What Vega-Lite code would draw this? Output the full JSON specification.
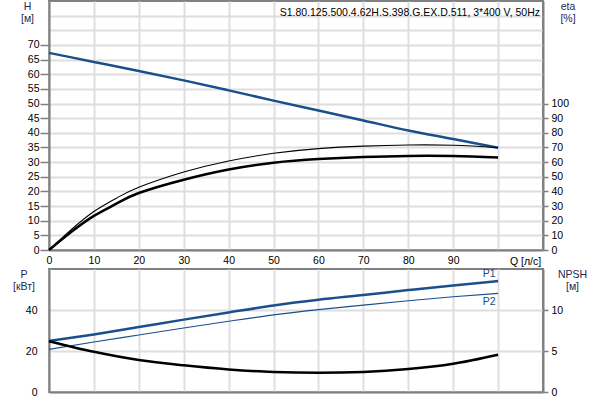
{
  "$schema": "https://vega.github.io/schema/vega-lite/v6.json",
  "padding": {"left": 11, "top": 0, "right": 0, "bottom": 0},
  "background": "white",
  "config": {
    "font": "Liberation Sans",
    "view": {"stroke": "#808080", "strokeWidth": 2},
    "axis": {
      "labelFont": "Liberation Sans", "labelFontSize": 10.5, "labelColor": "#000000",
      "titleFont": "Liberation Sans", "titleFontSize": 10.5, "titleFontWeight": "normal", "titleColor": "#2a2550",
      "titleAngle": 0, "titleAlign": "center", "titleBaseline": "top", "titleLineHeight": 12.5,
      "domainColor": "#808080", "domainWidth": 2,
      "gridColor": "#dedede", "gridWidth": 2,
      "tickColor": "#808080", "tickWidth": 1.5,
      "labelFlush": false, "labelOverlap": false
    }
  },
  "datasets": {
    "top": [
      {"Q": 0, "curve": "H", "value": 67.3}, {"Q": 10, "curve": "H", "value": 64.2}, {"Q": 20, "curve": "H", "value": 61.1},
      {"Q": 30, "curve": "H", "value": 57.9}, {"Q": 40, "curve": "H", "value": 54.5}, {"Q": 50, "curve": "H", "value": 51.0},
      {"Q": 60, "curve": "H", "value": 47.6}, {"Q": 70, "curve": "H", "value": 44.2}, {"Q": 80, "curve": "H", "value": 40.8},
      {"Q": 90, "curve": "H", "value": 37.9}, {"Q": 100, "curve": "H", "value": 34.9},
      {"Q": 0, "curve": "eta1", "value": 0}, {"Q": 5, "curve": "eta1", "value": 14.0}, {"Q": 10, "curve": "eta1", "value": 26.3},
      {"Q": 15, "curve": "eta1", "value": 35.4}, {"Q": 20, "curve": "eta1", "value": 42.8}, {"Q": 30, "curve": "eta1", "value": 53.2},
      {"Q": 40, "curve": "eta1", "value": 60.8}, {"Q": 50, "curve": "eta1", "value": 66.0}, {"Q": 60, "curve": "eta1", "value": 69.2},
      {"Q": 70, "curve": "eta1", "value": 70.9}, {"Q": 80, "curve": "eta1", "value": 71.7}, {"Q": 90, "curve": "eta1", "value": 71.5},
      {"Q": 100, "curve": "eta1", "value": 69.9},
      {"Q": 0, "curve": "eta2", "value": 0}, {"Q": 5, "curve": "eta2", "value": 12.4}, {"Q": 10, "curve": "eta2", "value": 23.3},
      {"Q": 15, "curve": "eta2", "value": 31.6}, {"Q": 20, "curve": "eta2", "value": 38.9}, {"Q": 30, "curve": "eta2", "value": 48.0},
      {"Q": 40, "curve": "eta2", "value": 55.0}, {"Q": 50, "curve": "eta2", "value": 59.6}, {"Q": 60, "curve": "eta2", "value": 62.1},
      {"Q": 70, "curve": "eta2", "value": 63.5}, {"Q": 80, "curve": "eta2", "value": 64.2}, {"Q": 90, "curve": "eta2", "value": 64.1},
      {"Q": 100, "curve": "eta2", "value": 63.1}
    ],
    "bottom": [
      {"Q": 0, "curve": "P1", "value": 24.9}, {"Q": 10, "curve": "P1", "value": 28.1}, {"Q": 20, "curve": "P1", "value": 31.7},
      {"Q": 30, "curve": "P1", "value": 35.3}, {"Q": 40, "curve": "P1", "value": 38.8}, {"Q": 50, "curve": "P1", "value": 42.2},
      {"Q": 60, "curve": "P1", "value": 45.0}, {"Q": 70, "curve": "P1", "value": 47.3}, {"Q": 80, "curve": "P1", "value": 49.7},
      {"Q": 90, "curve": "P1", "value": 52.0}, {"Q": 100, "curve": "P1", "value": 54.1},
      {"Q": 0, "curve": "P2", "value": 20.8}, {"Q": 10, "curve": "P2", "value": 24.4}, {"Q": 20, "curve": "P2", "value": 27.8},
      {"Q": 30, "curve": "P2", "value": 31.2}, {"Q": 40, "curve": "P2", "value": 34.5}, {"Q": 50, "curve": "P2", "value": 37.6},
      {"Q": 60, "curve": "P2", "value": 40.2}, {"Q": 70, "curve": "P2", "value": 42.4}, {"Q": 80, "curve": "P2", "value": 44.5},
      {"Q": 90, "curve": "P2", "value": 46.5}, {"Q": 100, "curve": "P2", "value": 48.1},
      {"Q": 0, "curve": "NPSH", "value": 6.2}, {"Q": 10, "curve": "NPSH", "value": 4.9}, {"Q": 20, "curve": "NPSH", "value": 3.9},
      {"Q": 30, "curve": "NPSH", "value": 3.25}, {"Q": 40, "curve": "NPSH", "value": 2.75}, {"Q": 50, "curve": "NPSH", "value": 2.45},
      {"Q": 60, "curve": "NPSH", "value": 2.35}, {"Q": 70, "curve": "NPSH", "value": 2.45}, {"Q": 80, "curve": "NPSH", "value": 2.8},
      {"Q": 90, "curve": "NPSH", "value": 3.45}, {"Q": 100, "curve": "NPSH", "value": 4.55}
    ]
  },
  "spacing": 19,
  "bounds": "flush",
  "vconcat": [
    {
      "width": 494,
      "height": 249,
      "title": {"text": "S1.80.125.500.4.62H.S.398.G.EX.D.511, 3*400 V, 50Hz", "orient": "top", "anchor": "end", "frame": "group", "offset": -17, "dx": -3, "fontSize": 10.5, "fontWeight": "normal", "color": "#000000", "baseline": "top", "font": "Liberation Sans"},
      "data": {"name": "top"},
      "encoding": {
        "x": {"field": "Q", "type": "quantitative", "scale": {"domain": [0, 110], "nice": false},
          "axis": {"values": [0, 10, 20, 30, 40, 50, 60, 70, 80, 90, 100], "labelExpr": "datum.value < 100 ? datum.label : ''",
            "ticks": false, "labelPadding": 5, "grid": true, "title": "Q [л/с]", "titleX": 476, "titleY": 6, "titleColor": "#000000"}}
      },
      "layer": [
        {
          "transform": [{"filter": "datum.curve === 'H'"}],
          "mark": {"type": "line", "color": "#1a4f8c", "strokeWidth": 2.5, "interpolate": "monotone"},
          "encoding": {
            "y": {"field": "value", "type": "quantitative", "scale": {"domain": [0, 85], "nice": false},
              "axis": {"orient": "left", "values": [0, 5, 10, 15, 20, 25, 30, 35, 40, 45, 50, 55, 60, 65, 70, 75, 80],
                "labelExpr": "datum.value <= 70 ? datum.label : ''",
                "tickOpacity": {"condition": {"test": "datum.value <= 70", "value": 1}, "value": 0},
                "tickSize": 9, "labelPadding": 1, "grid": true,
                "title": ["H", "[м]"], "titleX": -22, "titleY": 0}}
          }
        },
        {
          "encoding": {
            "y": {"field": "value", "type": "quantitative", "scale": {"domain": [0, 170], "nice": false},
              "axis": {"orient": "right", "values": [0, 10, 20, 30, 40, 50, 60, 70, 80, 90, 100],
                "tickSize": 5, "labelPadding": 3, "grid": false,
                "title": ["eta", "[%]"], "titleX": 24.5, "titleY": 0}}
          },
          "layer": [
            {
              "transform": [{"filter": "datum.curve === 'eta1'"}],
              "mark": {"type": "line", "color": "#000000", "strokeWidth": 1.1, "interpolate": "natural"}
            },
            {
              "transform": [{"filter": "datum.curve === 'eta2'"}],
              "mark": {"type": "line", "color": "#000000", "strokeWidth": 2.5, "interpolate": "natural"}
            }
          ]
        }
      ],
      "resolve": {"scale": {"y": "independent"}}
    },
    {
      "width": 494,
      "height": 123,
      "data": {"name": "bottom"},
      "encoding": {
        "x": {"field": "Q", "type": "quantitative", "scale": {"domain": [0, 110], "nice": false},
          "axis": {"values": [0, 10, 20, 30, 40, 50, 60, 70, 80, 90, 100], "labels": false, "ticks": false, "grid": true, "title": null}}
      },
      "layer": [
        {
          "encoding": {
            "y": {"field": "value", "type": "quantitative", "scale": {"domain": [0, 60], "nice": false},
              "axis": {"orient": "left", "values": [0, 20, 40], "ticks": false, "labelPadding": 12, "grid": true,
                "title": ["P", "[кВт]"], "titleX": -25.5, "titleY": 0}}
          },
          "layer": [
            {
              "transform": [{"filter": "datum.curve === 'P1'"}],
              "mark": {"type": "line", "color": "#1a4f8c", "strokeWidth": 2.5, "interpolate": "monotone"}
            },
            {
              "transform": [{"filter": "datum.curve === 'P2'"}],
              "mark": {"type": "line", "color": "#1a4f8c", "strokeWidth": 1.1, "interpolate": "monotone"}
            },
            {
              "transform": [{"filter": "datum.curve === 'P1' && datum.Q === 100"}],
              "mark": {"type": "text", "align": "center", "baseline": "bottom", "dx": -9, "dy": -2, "fontSize": 10.5, "color": "#23497a", "font": "Liberation Sans"},
              "encoding": {"text": {"field": "curve"}}
            },
            {
              "transform": [{"filter": "datum.curve === 'P2' && datum.Q === 100"}],
              "mark": {"type": "text", "align": "center", "baseline": "top", "dx": -9, "dy": 4, "fontSize": 10.5, "color": "#23497a", "font": "Liberation Sans"},
              "encoding": {"text": {"field": "curve"}}
            }
          ]
        },
        {
          "transform": [{"filter": "datum.curve === 'NPSH'"}],
          "mark": {"type": "line", "color": "#000000", "strokeWidth": 2.5, "interpolate": "monotone"},
          "encoding": {
            "y": {"field": "value", "type": "quantitative", "scale": {"domain": [0, 15], "nice": false},
              "axis": {"orient": "right", "values": [0, 5, 10], "tickSize": 5, "labelPadding": 3, "grid": false,
                "title": ["NPSH", "[м]"], "titleX": 29, "titleY": 0}}
          }
        }
      ],
      "resolve": {"scale": {"y": "independent"}}
    }
  ]
}
